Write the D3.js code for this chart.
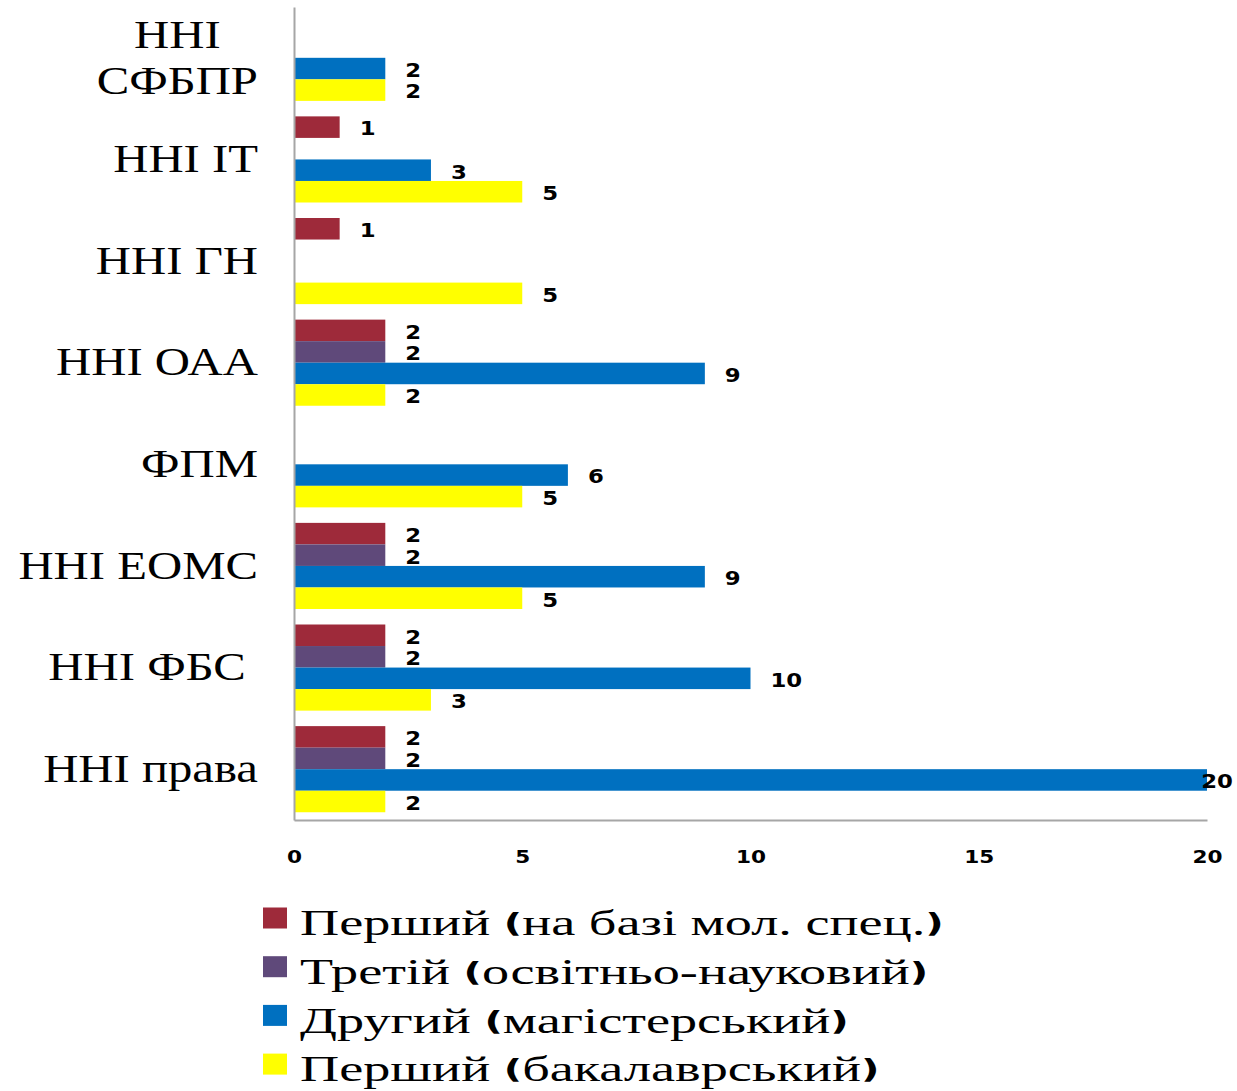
<!DOCTYPE html>
<html>
<head>
<meta charset="utf-8">
<script src="https://cdn.jsdelivr.net/npm/d3@7"></script>
<style>
  body { margin: 0; background: #fff; }
  svg text { white-space: pre; }
</style>
</head>
<body>
<div id="chart"></div>
<script>
const categories = ['ННІ\nСФБПР', 'ННІ ІТ', 'ННІ ГН', 'ННІ ОАА', 'ФПМ', 'ННІ ЕОМС', 'ННІ ФБС ', 'ННІ права']
const seriesNames = [
    'Перший (на базі мол. спец.)',
    'Третій (освітньо-науковий)',
    'Другий (магістерський)',
    'Перший (бакалаврський)'
]
const seriesColors = ['#9E2A3A', '#5F497A', '#0070C0', '#FFFF00']
// null = no bar
const firstJunior = [null, 1, 1, 2, null, 2, 2, 2]
const third = [null, null, null, 2, null, 2, 2, 2]
const second = [2, 3, null, 9, 6, 9, 10, 20]
const firstBachelor = [2, 5, 5, 2, 5, 5, 3, 2]
const xTicks = [0, 5, 10, 15, 20]

const seriesValues = [firstJunior, third, second, firstBachelor]

const W = 1237, H = 1091
const margin = { top: 7, left: 294, right: 30, bottom: 271 }
const plotW = 1207 - margin.left,
    plotH = 820 - margin.top
const sx = 1.2 // horizontal stretch of the original picture

const svg = d3.select('#chart').append('svg')
    .attr('width', W)
    .attr('height', H)

const x = d3.scaleLinear().domain([0, 20]).range([0, plotW])
const y = d3.scaleBand().domain(categories).range([0, plotH])
const ySub = d3.scaleBand().domain(d3.range(4)).range([0, y.bandwidth()]).paddingOuter(0.36)

const g = svg.append('g')
    .attr('transform', 'translate(' + margin.left + ', ' + margin.top + ')')

const rows = []
categories.forEach((c, i) => {
    seriesValues.forEach((vals, s) => {
        if (vals[i] != null) rows.push({ cat: c, s: s, v: vals[i] })
    })
})

g.selectAll('rect')
    .data(rows)
    .enter()
    .append('rect')
    .attr('x', 0)
    .attr('y', d => y(d.cat) + ySub(d.s))
    .attr('width', d => x(d.v))
    .attr('height', ySub.bandwidth())
    .style('fill', d => seriesColors[d.s])

// value labels
const valFont = "'DejaVu Sans', Verdana, sans-serif"
g.selectAll('.val')
    .data(rows)
    .enter()
    .append('text')
    .attr('class', 'val')
    .text(d => d.v)
    .style('font-family', valFont)
    .style('font-weight', 'bold')
    .style('font-size', '19px')
    .attr('dominant-baseline', 'central')
    .each(function (d) {
        const w = this.getComputedTextLength() * sx
        let px = x(d.v) + 20
        if (margin.left + px + w > W - 4) px = W - 4 - w - margin.left
        const py = y(d.cat) + ySub(d.s) + ySub.bandwidth() / 2 + 2
        d3.select(this).attr('transform', 'translate(' + px + ',' + py + ') scale(' + sx + ',1)')
    })

// left axis line
const yAxis = g.append('g')
    .call(d3.axisLeft(y).tickSize(0).tickFormat(''))
yAxis.select('.domain').attr('stroke', '#A6A6A6').attr('stroke-width', 2)

// bottom axis
const xAxis = g.append('g')
    .attr('transform', 'translate(0, ' + plotH + ')')
    .call(d3.axisBottom(x).tickValues(xTicks).tickSize(0).tickPadding(0))
xAxis.select('.domain').attr('stroke', '#A6A6A6').attr('stroke-width', 2)
xAxis.selectAll('.tick text')
    .style('font-family', valFont)
    .style('font-weight', 'bold')
    .style('font-size', '18px')
    .style('fill', '#000')
    .attr('y', 0)
    .attr('dy', null)
    .attr('dominant-baseline', 'central')
    .attr('transform', 'translate(0,37) scale(' + sx + ',1)')

// category labels
const catFont = "'Liberation Serif', 'Times New Roman', serif"
const catSx = 1.25
const labelRight = 258 - margin.left
categories.forEach(c => {
    const lines = c.split('\n')
    const cy = y(c) + y.bandwidth() / 2
    const lh = 46
    const t = g.append('text')
        .style('font-family', catFont)
        .style('font-size', '39px')
        .style('fill', '#000')
    lines.forEach((ln, j) => {
        t.append('tspan')
            .attr('x', 0)
            .attr('y', (j - (lines.length - 1) / 2) * lh)
            .attr('dominant-baseline', 'central')
            .text(ln)
    })
    if (lines.length > 1) {
        let maxW = 0
        t.selectAll('tspan').each(function () { maxW = Math.max(maxW, this.getComputedTextLength()) })
        t.attr('text-anchor', 'middle')
            .attr('transform', 'translate(' + (labelRight - maxW * catSx / 2) + ',' + cy + ') scale(' + catSx + ',1)')
    } else {
        t.attr('text-anchor', 'end')
            .attr('transform', 'translate(' + labelRight + ',' + cy + ') scale(' + catSx + ',1)')
    }
})

// legend
const legend = svg.append('g').attr('transform', 'translate(263, 918)')
seriesNames.forEach((name, i) => {
    const row = legend.append('g').attr('transform', 'translate(0,' + (i * 48.7) + ')')
    row.append('rect')
        .attr('x', 0).attr('y', -10.5)
        .attr('width', 24).attr('height', 21)
        .style('fill', seriesColors[i])
    const t = row.append('text')
        .attr('dominant-baseline', 'central')
        .attr('transform', 'translate(37,5) scale(1.55,1)')
        .style('font-family', catFont)
        .style('font-size', '35px')
        .style('fill', '#000')
    name.split(/([()])/).filter(p => p !== '').forEach(p => {
        const ts = t.append('tspan').text(p)
        if (p === '(' || p === ')') {
            ts.style('font-family', valFont).style('font-weight', 'bold').style('font-size', '26px')
        }
    })
})
</script>
</body>
</html>
